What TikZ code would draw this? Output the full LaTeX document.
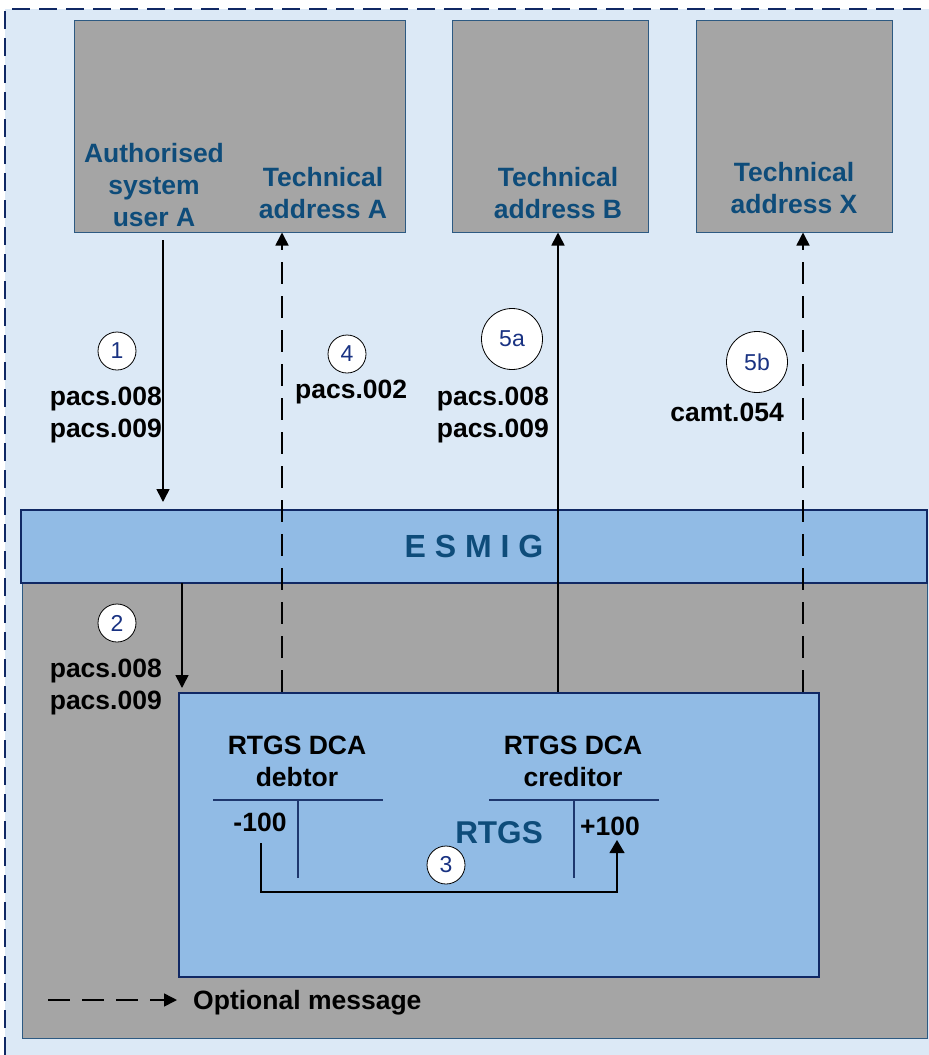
\documentclass[tikz,border=0pt]{standalone}
\usepackage{fontspec}
\setmainfont{Liberation Sans}
\usetikzlibrary{arrows.meta,calc}
\definecolor{bgblue}{RGB}{220,233,246}
\definecolor{grayfill}{RGB}{165,165,165}
\definecolor{midblue}{RGB}{145,187,229}
\definecolor{navy}{RGB}{16,40,100}
\definecolor{txtblue}{RGB}{14,76,122}
\definecolor{numblue}{RGB}{25,50,130}
\definecolor{boxedge}{RGB}{45,90,130}
\definecolor{tline}{RGB}{30,55,110}
\begin{document}
\begin{tikzpicture}[x=1pt,y=-1pt,
  sysbox/.style={draw=boxedge, line width=1pt, fill=grayfill, inner sep=0pt},
  titletxt/.style={font=\fontsize{26.5}{32}\selectfont\bfseries, text=txtblue, align=center, inner sep=0pt},
  msgtxt/.style={font=\fontsize{26.5}{32}\selectfont\bfseries, text=black, inner sep=0pt},
  numcirc/.style={circle, draw=black, line width=0.8pt, fill=white, minimum size=38pt, inner sep=0pt, text=numblue, font=\fontsize{23}{26}\selectfont},
  bigcirc/.style={numcirc, minimum size=61pt},
  msgarrow/.style={line width=1.6pt, -{Triangle[length=13pt,width=13pt]}},
  optarrow/.style={msgarrow, dash pattern=on 22pt off 12pt},
  tacc/.style={draw=tline, line width=2pt}
]
\useasboundingbox (0,0) rectangle (929,1055);
% background
\fill[bgblue] (5,9) rectangle (929,1055);
\draw[navy, line width=1.2pt, dash pattern=on 18pt off 9pt] (5,1055) -- (5,9) -- (929,9);

% top boxes
\node[sysbox, minimum width=331pt, minimum height=212pt] (boxA) at (239.5,126) {};
\node[sysbox, minimum width=196pt, minimum height=212pt] (boxB) at (550,126) {};
\node[sysbox, minimum width=196pt, minimum height=212pt] (boxX) at (794,126) {};
\node[titletxt] (tAuth) at (154,185) {Authorised\\system\\user A};
\node[titletxt] (tTA) at (323,193) {Technical\\address A};
\node[titletxt] (tTB) at (558,193) {Technical\\address B};
\node[titletxt] (tTX) at (794,188.5) {Technical\\address X};

% gray lower region
\node[draw=boxedge, line width=1pt, fill=grayfill, minimum width=905pt, minimum height=455pt, inner sep=0pt] (lower) at (474.5,810.5) {};
% ESMIG
\node[draw=navy, line width=2pt, fill=midblue, minimum width=906pt, minimum height=73pt, inner sep=0pt] (esmig) at (474,546.5) {};
\node[font=\fontsize{32}{36}\selectfont\bfseries, text=txtblue, inner sep=0pt] (esmigtxt) at (474,546.5) {E S M I G};
% RTGS box
\node[draw=navy, line width=2.5pt, fill=midblue, minimum width=640pt, minimum height=284pt, inner sep=0pt] (rtgs) at (499,835) {};

\node[msgtxt, align=center] (deb) at (297,761) {RTGS DCA\\debtor};
\node[msgtxt, align=center] (cred) at (573,761) {RTGS DCA\\creditor};
\draw[tacc] (213,800) -- (383,800);
\draw[tacc] (298,800) -- (298,878);
\draw[tacc] (489,800) -- (659,800);
\draw[tacc] (574,800) -- (574,878);
\node[msgtxt] (m100) at (260,822) {-100};
\node[msgtxt] (p100) at (610,826) {+100};
\node[font=\fontsize{31.5}{36}\selectfont\bfseries, text=txtblue, inner sep=0pt] (rtgstxt) at (499,833) {RTGS};

% arrow 3
\coordinate (c3s) at (261,843);
\coordinate (c3e) at (617,840);
\draw[line width=1.2pt, -{Triangle[length=13pt,width=15pt]}] (c3s) -- (261,892) -- (617,892) -- (c3e);
\node[numcirc] (n3) at (446,865) {3};

% arrow 1
\coordinate (c1s) at (163,240);
\coordinate (c1e) at (163,502);
\draw[msgarrow] (c1s) -- (c1e);
\node[numcirc] (n1) at (117,351) {1};
\node[msgtxt, align=right, anchor=east] (l1) at (162,414.8) {pacs.008\\pacs.009};

% arrow 2
\coordinate (c2) at (182,583);
\coordinate (c2e) at (182,688);
\draw[msgarrow] (c2) -- (c2e);
\node[numcirc] (n2) at (117,623) {2};
\node[msgtxt, align=right, anchor=east] (l2) at (162,687.3) {pacs.008\\pacs.009};

% arrow 4
\coordinate (c4) at (282,0);
\draw[optarrow] (rtgs.north -| c4) -- (boxA.south -| c4);
\node[numcirc] (n4) at (347,354) {4};
\node[msgtxt, anchor=west] (l4) at (295,391.8) {pacs.002};

% arrow 5a
\coordinate (c5a) at (558,0);
\draw[msgarrow] (rtgs.north -| c5a) -- (boxB.south -| c5a);
\node[bigcirc] (n5a) at (512,339) {5a};
\node[msgtxt, align=right, anchor=east] (l5a) at (549,414.8) {pacs.008\\pacs.009};

% arrow 5b
\coordinate (c5b) at (803,0);
\draw[optarrow] (rtgs.north -| c5b) -- (boxX.south -| c5b);
\node[bigcirc] (n5b) at (757,362) {5b};
\node[msgtxt, anchor=east] (l5b) at (784,412) {camt.054};

% legend
\coordinate (legS) at (48,1000);
\coordinate (legE) at (177,1000);
\draw[optarrow] (legS) -- (legE);
\node[msgtxt, anchor=west] (legtxt) at (193,1002.8) {Optional message};
\end{tikzpicture}
\end{document}
